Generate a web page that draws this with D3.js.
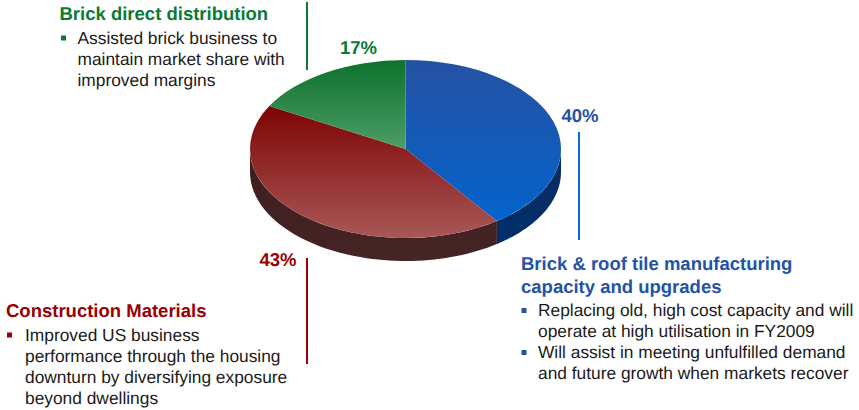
<!DOCTYPE html>
<html>
<head>
<meta charset="utf-8">
<script src="https://cdn.jsdelivr.net/npm/d3@7"></script>
<style>
  html, body { margin: 0; padding: 0; background: #fff; }
  svg { display: block; }
  text { font-family: "Liberation Sans", Arial, sans-serif; text-rendering: geometricPrecision; }
</style>
</head>
<body>
<svg id="chart" width="859" height="410"></svg>
<script>
// Share of spend by category, clockwise from twelve o'clock
const categories = ["Brick & roof tile manufacturing capacity and upgrades", "Construction Materials", "Brick direct distribution"];
const shares = [40, 43, 17];
const shareLabels = ["40%", "43%", "17%"];
const accentColors = ["#2453a5", "#990000", "#0b7a35"];
const leaderColors = ["#0a6ccf", "#990000", "#0b7a35"];
const topGradients = [["#2552a3", "#0463cc"], ["#7e0404", "#a95757"], ["#0d712b", "#4c9e68"]];
const sideGradients = [["#0e2a5c", "#002f6c"], ["#3d1d1d", "#442424"], ["#333", "#333"]];
const headings = [
  ["Brick & roof tile manufacturing", "capacity and upgrades"],
  ["Construction Materials"],
  ["Brick direct distribution"]
];
const bullets = [
  [["Replacing old, high cost capacity and will", "operate at high utilisation in FY2009"],
   ["Will assist in meeting unfulfilled demand", "and future growth when markets recover"]],
  [["Improved US business", "performance through the housing", "downturn by diversifying exposure", "beyond dwellings"]],
  [["Assisted brick business to", "maintain market share with", "improved margins"]]
];

// Layout of the text blocks and their leader rules
const blockLayout = [
  { x: 521, y: 270, textX: 538, bulletX: 521.5 },
  { x: 6, y: 317, textX: 25, bulletX: 7 },
  { x: 59.5, y: 20, textX: 77.5, bulletX: 61 }
];
const labelLayout = [
  { x: 580, y: 122 }, { x: 278, y: 265.5 }, { x: 358.5, y: 54 }
];
const leaderLayout = [
  { x: 579, y1: 132, y2: 240 }, { x: 307, y1: 258, y2: 364 }, { x: 307, y1: 2, y2: 70 }
];

const cx = 405.5, cy = 149, rx = 155.5, ry = 89, depth = 23;
const svg = d3.select("#chart");
const defs = svg.append("defs");

const slices = d3.pie().sort(null).value(d => d)(shares);
const arc = d3.arc().innerRadius(0).outerRadius(1);

// Scales mapping the unit circle onto the tilted disc
const px = d3.scaleLinear().domain([-1, 1]).range([cx - rx, cx + rx]);
const py = d3.scaleLinear().domain([-1, 1]).range([cy - ry, cy + ry]);
const rimPoint = (a, drop) => [px(Math.sin(a)), py(-Math.cos(a)) + drop];

// Vertical gradient spanning the bounding box of whatever it fills
function addGradient(id, stops) {
  const g = defs.append("linearGradient").attr("id", id)
    .attr("x1", 0).attr("x2", 0).attr("y1", 0).attr("y2", 1);
  g.append("stop").attr("offset", 0).attr("stop-color", stops[0]);
  g.append("stop").attr("offset", 1).attr("stop-color", stops[1]);
}

const pie = svg.append("g");

// Side wall: only the part of the rim that faces the viewer
slices.forEach((s, i) => {
  const a0 = Math.max(s.startAngle, Math.PI / 2);
  const a1 = Math.min(s.endAngle, Math.PI * 1.5);
  if (a1 <= a0) return;
  addGradient("side" + i, sideGradients[i]);
  const steps = d3.range(0, 61).map(k => a0 + (a1 - a0) * k / 60);
  const upper = steps.map(a => rimPoint(a, 0));
  const lower = steps.slice().reverse().map(a => rimPoint(a, depth));
  pie.append("path")
    .attr("d", d3.line()(upper.concat(lower)) + "Z")
    .attr("fill", `url(#side${i})`);
});

// Top face: each wedge carries a vertical gradient over its own extent
slices.forEach((s, i) => {
  addGradient("top" + i, topGradients[i]);
  pie.append("path")
    .attr("transform", `translate(${cx},${cy}) scale(${rx},${ry})`)
    .attr("d", arc(s))
    .attr("fill", `url(#top${i})`);
});

// Percentage labels and leader rules
shareLabels.forEach((t, i) => {
  svg.append("text")
    .attr("x", labelLayout[i].x).attr("y", labelLayout[i].y)
    .attr("text-anchor", "middle")
    .attr("font-size", 18.5).attr("font-weight", "bold")
    .attr("fill", accentColors[i])
    .text(t);
  svg.append("line")
    .attr("x1", leaderLayout[i].x).attr("x2", leaderLayout[i].x)
    .attr("y1", leaderLayout[i].y1).attr("y2", leaderLayout[i].y2)
    .attr("stroke", leaderColors[i]).attr("stroke-width", 2);
});

// Text blocks: heading followed by square-bulleted notes
const headStep = 22.5, lineStep = 21;
headings.forEach((lines, i) => {
  const b = blockLayout[i];
  let y = b.y;
  lines.forEach((line, k) => {
    svg.append("text").attr("x", b.x).attr("y", y)
      .attr("font-size", 18.5).attr("font-weight", "bold")
      .attr("fill", accentColors[i]).text(line);
    y += k < lines.length - 1 ? headStep : 0;
  });
  y += 23.5;
  bullets[i].forEach(group => {
    svg.append("rect")
      .attr("x", b.bulletX).attr("y", y - 8)
      .attr("width", 5).attr("height", 5)
      .attr("fill", accentColors[i]);
    group.forEach(line => {
      svg.append("text").attr("x", b.textX).attr("y", y)
        .attr("font-size", 17.35).attr("fill", "#1a1a1a").text(line);
      y += lineStep;
    });
  });
});
</script>
</body>
</html>
